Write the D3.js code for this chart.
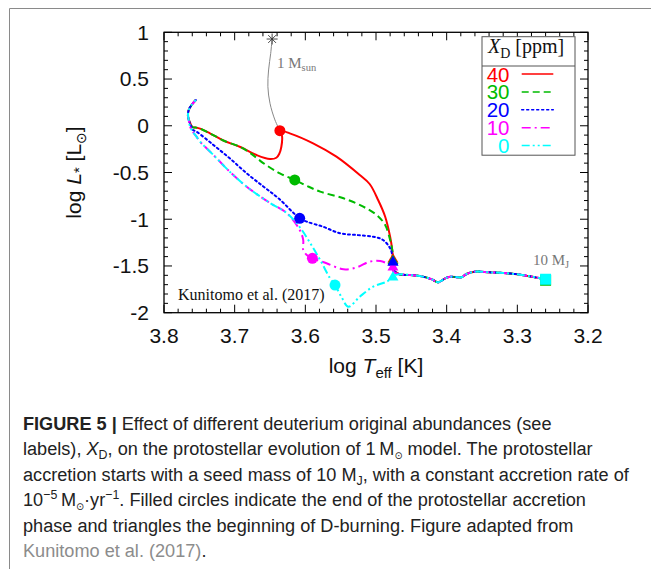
<!DOCTYPE html>
<html><head><meta charset="utf-8">
<script src="https://cdn.jsdelivr.net/npm/d3@7"></script>
<style>body{margin:0;background:#fff}svg{display:block}</style>
</head><body>
<svg id="c" width="651" height="569"></svg>
<script>
// ---------- data ----------
const xTicks = [3.8, 3.7, 3.6, 3.5, 3.4, 3.3, 3.2];
const xTickLabels = ["3.8", "3.7", "3.6", "3.5", "3.4", "3.3", "3.2"];
const yTicks = [1, 0.5, 0, -0.5, -1, -1.5, -2];
const yTickLabels = ["1", "0.5", "0", "-0.5", "-1", "-1.5", "-2"];
const seriesLabels = ["40", "30", "20", "10", "0"];
const seriesColors = ["#ff0000", "#00bb00", "#0000ff", "#ff00ff", "#00ffff"];

// shared early track (from 10 M_J seed towards higher Teff)
const commonTrack = [
  [3.260, -1.643], [3.296, -1.593], [3.320, -1.575], [3.339, -1.568], [3.360, -1.561],
  [3.372, -1.586], [3.379, -1.621], [3.395, -1.615], [3.402, -1.632], [3.412, -1.675],
  [3.421, -1.643], [3.438, -1.607], [3.452, -1.597], [3.467, -1.588]
];
const track40 = [
  [3.4755, -1.54], [3.476, -1.43], [3.477, -1.33], [3.480, -1.187], [3.487, -0.973],
  [3.497, -0.794], [3.509, -0.623], [3.523, -0.527], [3.556, -0.331], [3.589, -0.188],
  [3.622, -0.081], [3.636, -0.053], [3.633, -0.109], [3.634, -0.227], [3.637, -0.302],
  [3.641, -0.342], [3.650, -0.356], [3.669, -0.313], [3.692, -0.227], [3.716, -0.158],
  [3.735, -0.081], [3.749, -0.031], [3.755, -0.019], [3.760, -0.013], [3.763, 0.030],
  [3.766, 0.094], [3.765, 0.169], [3.761, 0.222], [3.755, 0.276]
];
const track30 = [
  [3.4755, -1.54], [3.476, -1.44], [3.477, -1.329], [3.480, -1.222], [3.487, -1.062],
  [3.499, -0.955], [3.518, -0.866], [3.546, -0.776], [3.579, -0.705], [3.599, -0.639],
  [3.615, -0.580], [3.636, -0.509], [3.659, -0.402], [3.678, -0.291], [3.692, -0.227],
  [3.716, -0.158], [3.735, -0.081], [3.749, -0.031], [3.755, -0.019], [3.760, -0.013],
  [3.763, 0.030], [3.766, 0.094], [3.765, 0.169], [3.761, 0.222], [3.755, 0.276]
];
const track20 = [
  [3.4755, -1.54], [3.476, -1.46], [3.477, -1.383], [3.480, -1.311], [3.490, -1.222],
  [3.504, -1.187], [3.527, -1.169], [3.551, -1.150], [3.575, -1.080], [3.598, -1.026],
  [3.608, -0.990], [3.638, -0.776], [3.659, -0.652], [3.683, -0.509], [3.707, -0.348],
  [3.730, -0.206], [3.754, -0.063], [3.759, -0.045], [3.763, 0.019], [3.766, 0.094],
  [3.765, 0.169], [3.761, 0.222], [3.755, 0.276]
];
const track10 = [
  [3.4755, -1.56], [3.476, -1.515], [3.480, -1.490], [3.494, -1.447], [3.509, -1.454],
  [3.527, -1.514], [3.546, -1.536], [3.570, -1.471], [3.590, -1.418], [3.598, -1.383],
  [3.603, -1.329], [3.603, -1.222], [3.608, -1.115], [3.626, -0.936], [3.650, -0.826],
  [3.683, -0.652], [3.707, -0.491], [3.730, -0.313], [3.749, -0.170], [3.754, -0.117],
  [3.759, -0.067], [3.763, -0.010], [3.765, 0.062], [3.766, 0.120], [3.765, 0.169],
  [3.761, 0.222], [3.755, 0.276]
];
const track0 = [
  [3.473, -1.600], [3.476, -1.623], [3.485, -1.668], [3.504, -1.722], [3.523, -1.829],
  [3.539, -1.936], [3.549, -1.829], [3.558, -1.704], [3.565, -1.632], [3.579, -1.436],
  [3.593, -1.257], [3.608, -1.083], [3.626, -0.936], [3.650, -0.826], [3.683, -0.652],
  [3.707, -0.491], [3.730, -0.313], [3.749, -0.170], [3.754, -0.117], [3.759, -0.067],
  [3.763, -0.010], [3.765, 0.062], [3.766, 0.120], [3.765, 0.169], [3.761, 0.222],
  [3.755, 0.276]
];
// end of accretion (circles) and start of D-burning (triangles)
const accretionEnd = [[3.636, -0.053], [3.615, -0.580], [3.608, -0.990], [3.590, -1.418], [3.558, -1.704]];
const dBurningStart = [[3.476, -1.43], [3.476, -1.445], [3.476, -1.462], [3.476, -1.515], [3.476, -1.622]];
const seedPoint = [3.260, -1.643];
const sunTrack = [[3.647, 0.928], [3.649, 0.775], [3.652, 0.597], [3.653, 0.418], [3.650, 0.240], [3.643, 0.062], [3.636, -0.053]];
const sunStar = [3.647, 0.928];

const tracks = [track40, track30, track20, track10, track0].map(t => commonTrack.concat(t));

// ---------- layout ----------
const svg = d3.select("#c");
const W = 651, H = 569;
const L = 164, R = 588, T = 32.3, B = 312.7;
const x = d3.scaleLinear().domain([3.8, 3.2]).range([L, R]);
const y = d3.scaleLinear().domain([-2, 1]).range([B, T]);
const sans = "'Liberation Sans', Arial, Helvetica, sans-serif";
const serif = "'Liberation Serif', 'Times New Roman', serif";
const dashes = [null, "7,4", "2,3", "9,4,2,4", "8,3,2,3,2,3"];

svg.append("rect").attr("width", W).attr("height", H).attr("fill", "#fff");
// outer frame (top & left visible)
svg.append("path").attr("d", `M651,8.5H9.5V569`).attr("fill", "none").attr("stroke", "#8a8a8a").attr("stroke-width", 1);

svg.append("clipPath").attr("id", "clip").append("rect")
  .attr("x", L).attr("y", T).attr("width", R - L).attr("height", B - T);

// ticks (inward, mirrored)
const xMinor = d3.range(3.2, 3.8001, 0.02);
const yMinor = d3.range(-2, 1.0001, 0.1);
const tg = svg.append("g").attr("stroke", "#000").attr("stroke-width", 1);
xMinor.forEach(v => {
  const major = xTicks.some(t => Math.abs(t - v) < 1e-6);
  const len = major ? 8 : 4;
  tg.append("line").attr("x1", x(v)).attr("x2", x(v)).attr("y1", B).attr("y2", B - len);
  tg.append("line").attr("x1", x(v)).attr("x2", x(v)).attr("y1", T).attr("y2", T + len);
});
yMinor.forEach(v => {
  const major = yTicks.some(t => Math.abs(t - v) < 1e-6);
  const len = major ? 8 : 4;
  tg.append("line").attr("y1", y(v)).attr("y2", y(v)).attr("x1", L).attr("x2", L + len);
  tg.append("line").attr("y1", y(v)).attr("y2", y(v)).attr("x1", R).attr("x2", R - len);
});
svg.append("rect").attr("x", L).attr("y", T).attr("width", R - L).attr("height", B - T)
  .attr("fill", "none").attr("stroke", "#000").attr("stroke-width", 1.3);

// tick labels
xTicks.forEach((v, i) => {
  svg.append("text").attr("x", x(v)).attr("y", 343.3).attr("text-anchor", "middle")
    .attr("font-family", sans).attr("font-size", 21).attr("fill", "#111").text(xTickLabels[i]);
});
yTicks.forEach((v, i) => {
  svg.append("text").attr("x", 149).attr("y", y(v)).attr("dy", "0.35em").attr("text-anchor", "end")
    .attr("font-family", sans).attr("font-size", 21).attr("fill", "#111").text(yTickLabels[i]);
});

function rich(sel, parts) {
  let shift = 0;
  parts.forEach(p => {
    const ts = sel.append("tspan").text(p.t);
    let target = 0;
    if (p.sub) target = p.sub;
    if (p.sup) target = -p.sup;
    if (target !== shift) { ts.attr("dy", target - shift); shift = target; }
    if (p.size) ts.attr("font-size", p.size);
    if (p.i) ts.attr("font-style", "italic");
    if (p.b) ts.attr("font-weight", "bold");
    if (p.fill) ts.attr("fill", p.fill);
    if (p.font) ts.attr("font-family", p.font);
  });
}

// axis titles
rich(svg.append("text").attr("x", 376).attr("y", 373.3).attr("text-anchor", "middle")
  .attr("font-family", sans).attr("font-size", 21).attr("fill", "#111"),
  [{t: "log "}, {t: "T", i: true}, {t: "eff", sub: 5, size: 15}, {t: " [K]", sub: 0.0001}]);
rich(svg.append("text").attr("transform", "translate(81,172.5) rotate(-90)").attr("text-anchor", "middle")
  .attr("font-family", sans).attr("font-size", 21).attr("fill", "#111"),
  [{t: "log "}, {t: "L", i: true}, {t: "*", sub: 3, size: 15}, {t: " [L", sub: 0.0001}, {t: "\u2299", sub: 5, size: 14, font: "'DejaVu Sans'"}, {t: "]", sub: 0.0001}]);

// plot content
const pg = svg.append("g").attr("clip-path", "url(#clip)");
const line = d3.line().x(d => x(d[0])).y(d => y(d[1])).curve(d3.curveCatmullRom.alpha(0.5));

pg.append("path").datum(sunTrack).attr("d", line).attr("fill", "none").attr("stroke", "#888").attr("stroke-width", 1);

tracks.forEach((tr, i) => {
  pg.append("path").datum(tr).attr("d", line).attr("fill", "none")
    .attr("stroke", seriesColors[i]).attr("stroke-width", 2)
    .attr("stroke-dasharray", dashes[i]).attr("stroke-linecap", i === 2 ? "round" : "butt")
    .attr("stroke-linejoin", "round");
});

// seed square
pg.append("path").attr("d", d3.symbol(d3.symbolSquare, 121)())
  .attr("transform", `translate(${x(seedPoint[0])},${y(seedPoint[1]) + 1})`).attr("fill", "#00bb00");
pg.append("path").attr("d", d3.symbol(d3.symbolSquare, 121)())
  .attr("transform", `translate(${x(seedPoint[0])},${y(seedPoint[1])})`).attr("fill", "#00ffff");

// circles & triangles
accretionEnd.forEach((p, i) => {
  pg.append("circle").attr("cx", x(p[0])).attr("cy", y(p[1])).attr("r", 5.5).attr("fill", seriesColors[i]);
});
dBurningStart.forEach((p, i) => {
  pg.append("path").attr("d", d3.symbol(d3.symbolTriangle, 52)())
    .attr("transform", `translate(${x(p[0])},${y(p[1])})`).attr("fill", seriesColors[i]);
});
// blue triangle on top of red/green stack
pg.append("path").attr("d", d3.symbol(d3.symbolTriangle, 52)())
  .attr("transform", `translate(${x(dBurningStart[2][0])},${y(dBurningStart[2][1])})`).attr("fill", seriesColors[2]);

// sun asterisk
const sx = x(sunStar[0]), sy = y(sunStar[1]);
const ast = svg.append("g").attr("stroke", "#333").attr("stroke-width", 0.9);
[0, 45, 90, 135].forEach(a => {
  const r = 5.5, c = Math.cos(a * Math.PI / 180) * r, s = Math.sin(a * Math.PI / 180) * r;
  ast.append("line").attr("x1", sx - c).attr("y1", sy - s).attr("x2", sx + c).attr("y2", sy + s);
});

// annotations
rich(svg.append("text").attr("x", 277).attr("y", 67.7).attr("font-family", serif).attr("font-size", 15).attr("fill", "#777"),
  [{t: "1 M"}, {t: "sun", sub: 3, size: 10.5}]);
rich(svg.append("text").attr("x", 533).attr("y", 265).attr("font-family", serif).attr("font-size", 15).attr("fill", "#777"),
  [{t: "10 M"}, {t: "J", sub: 3, size: 10.5}]);
svg.append("text").attr("x", 178).attr("y", 300).attr("font-family", serif).attr("font-size", 16).attr("fill", "#111")
  .text("Kunitomo et al. (2017)");

// legend
const lg = svg.append("g");
lg.append("rect").attr("x", 482).attr("y", 36.7).attr("width", 93).attr("height", 118.5)
  .attr("fill", "#fff").attr("stroke", "#555").attr("stroke-width", 1);
lg.append("line").attr("x1", 482).attr("x2", 575).attr("y1", 66).attr("y2", 66).attr("stroke", "#555").attr("stroke-width", 1);
rich(lg.append("text").attr("x", 488).attr("y", 53.3).attr("font-family", serif).attr("font-size", 20).attr("fill", "#111"),
  [{t: "X", i: true}, {t: "D", sub: 5, size: 14}, {t: " [ppm]", sub: 0.0001}]);
seriesLabels.forEach((lab, i) => {
  const by = 81.5 + i * 17.9;
  lg.append("text").attr("x", 509.5).attr("y", by).attr("text-anchor", "end")
    .attr("font-family", sans).attr("font-size", 20.5).attr("fill", seriesColors[i]).text(lab);
  lg.append("line").attr("x1", 521.7).attr("x2", 553.3).attr("y1", by - 7.5).attr("y2", by - 7.5)
    .attr("stroke", seriesColors[i]).attr("stroke-width", 1.5)
    .attr("stroke-dasharray", dashes[i]).attr("stroke-linecap", i === 2 ? "round" : "butt");
});

// caption (condensed by horizontal scaling)
const capFont = "'Liberation Sans', Arial, sans-serif";
const capLines = [
  [{t: "FIGURE 5 | ", b: true}, {t: "Effect of different deuterium original abundances (see"}],
  [{t: "labels), "}, {t: "X", i: true}, {t: "D", sub: 4, size: 13}, {t: ", on the protostellar evolution of 1\u2009M", sub: 0.0001}, {t: "\u2299", sub: 4, size: 10, font: "'DejaVu Sans'"}, {t: " model. The protostellar", sub: 0.0001}],
  [{t: "accretion starts with a seed mass of 10 M"}, {t: "J", sub: 4, size: 13}, {t: ", with a constant accretion rate of", sub: 0.0001}],
  [{t: "10"}, {t: "\u22125", sup: 7, size: 13}, {t: "\u2009M", sub: 0.0001}, {t: "\u2299", sub: 4, size: 10, font: "'DejaVu Sans'"}, {t: "\u00b7yr", sub: 0.0001}, {t: "\u22121", sup: 7, size: 13}, {t: ". Filled circles indicate the end of the protostellar accretion", sub: 0.0001}],
  [{t: "phase and triangles the beginning of D-burning. Figure adapted from"}],
  [{t: "Kunitomo et al. (2017)", fill: "#8c8c8c"}, {t: "."}]
];
capLines.forEach((parts, i) => {
  rich(svg.append("text").attr("transform", `translate(23,${430 + i * 25.4}) scale(0.955,1)`)
    .attr("font-family", capFont).attr("font-size", 19).attr("fill", "#222"), parts);
});
</script>
</body></html>
